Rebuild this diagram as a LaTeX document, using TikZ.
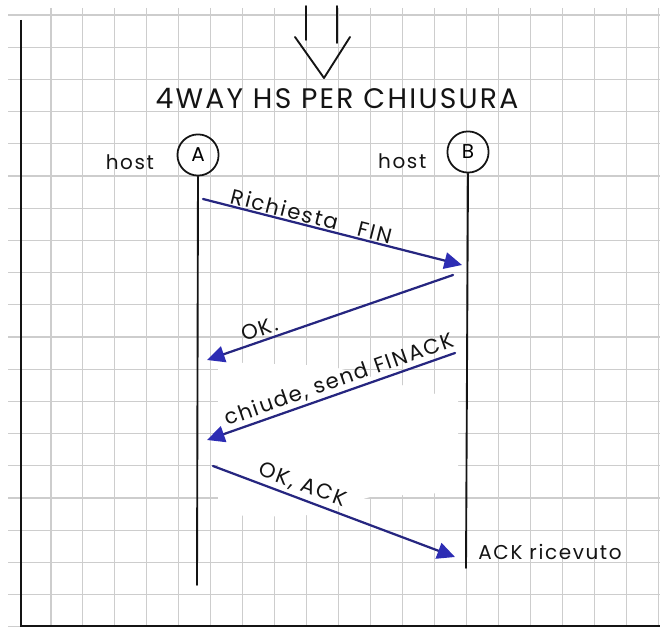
\documentclass[tikz,border=0pt]{standalone}
\usepackage{fontspec}
\setmainfont{Poppins}[LetterSpace=8]
\usetikzlibrary{arrows.meta, positioning, calc}
\definecolor{ink}  {RGB}{ 20, 20, 20}
\definecolor{pen}  {RGB}{ 38, 38,128}
\definecolor{penhd}{RGB}{ 45, 45,180}
\definecolor{gridc}{RGB}{205,205,205}
\tikzset{
  % Host circle
  Host/.style={circle,draw=ink,line width=1.5pt,minimum size=35pt,
               inner sep=0pt,font=\fontsize{17}{19}\selectfont},
  % Plain handwritten text
  HW/.style={font=\fontsize{17}{20}\selectfont,text=ink,inner sep=1pt},
  % Lifeline
  Life/.style={line width=1.6pt,draw=ink,line cap=round},
  % Blue message arrow
  Msg/.style={-{Triangle[length=15pt,width=14pt,color=penhd]},
              line width=1.9pt,draw=pen,line cap=round},
  % Label on a message
  Lbl/.style={font=\fontsize{18}{20}\selectfont,text=ink,sloped,above,
              inner sep=1pt},
  % Paper grid
  Grid/.style={draw=gridc,line width=0.9pt},
}
\begin{document}
\begin{tikzpicture}[x=0.85pt,y=-0.85pt]
\useasboundingbox (0,0) rectangle (660,627);
% ── paper ───────────────────────────────
\foreach \i in {0,...,19}
  \draw[Grid] ({51+31.95*\i},8) -- ({51+31.95*\i},627);
\foreach \j in {0,...,19}
  \draw[Grid] (8,{15+32.2*\j}) -- (660,{15+32.2*\j});
% erased area
\fill[white] (218,362) -- (330,366) -- (458,400) -- (458,492)
  -- (370,497) -- (300,517) -- (218,515) -- cycle;
\draw[line width=2.4pt,draw=ink] (21,20) -- (21,626) -- (660,626);
% ── title ───────────────────────────────
\coordinate (l1t) at (306,6);  \coordinate (l1b) at (306,40);
\coordinate (l2t) at (337,6);  \coordinate (l2b) at (337,43);
\coordinate (vl)  at (295,37); \coordinate (vt)  at (324,78);
\coordinate (vr)  at (350,37);
\draw[Life] (l1t) -- (l1b);
\draw[Life] (l2t) -- (l2b);
\draw[Life,line join=round] (vl) -- (vt) -- (vr);
\node[font=\fontsize{24}{28}\selectfont,text=ink] at (337,98) (title)
{4WAY HS PER CHIUSURA};
% ── hosts ───────────────────────────────
\node[Host] at (198,155) (A) {A};
\node[Host] at (468,152) (B) {B};
\node[HW,left=18pt of A,yshift=-6pt] (hostA) {host};
\node[HW,left=16pt of B,yshift=-8pt] (hostB) {host};
\coordinate (Aend) at (197,585);
\coordinate (Bend) at (466,568);
\draw[Life] (A.south) -- (Aend);
\draw[Life] (B.south) -- (Bend);
% ── messages ────────────────────────────
\coordinate (m1s) at (203,199); \coordinate (m1e) at (462,265);
\coordinate (m2s) at (453,275); \coordinate (m2e) at (207,360);
\coordinate (m3s) at (455,353); \coordinate (m3e) at (207,440);
\coordinate (m4s) at (213,466); \coordinate (m4e) at (455,557);
\draw[Msg] (m1s) -- node[Lbl,pos=0.41] {Richiesta\hspace{18pt}FIN} (m1e);
\draw[Msg] (m2s) -- node[Lbl,pos=0.77,yshift=2pt] {OK.} (m2e);
\draw[Msg] (m3s) -- node[Lbl,pos=0.45,yshift=1pt] {chiude, send FINACK} (m3e);
\draw[Msg] (m4s) -- node[Lbl,pos=0.35,yshift=2pt] {OK, ACK} (m4e);
\node[HW,anchor=west] at (477,552) (ackr) {ACK ricevuto};
\end{tikzpicture}
\end{document}
